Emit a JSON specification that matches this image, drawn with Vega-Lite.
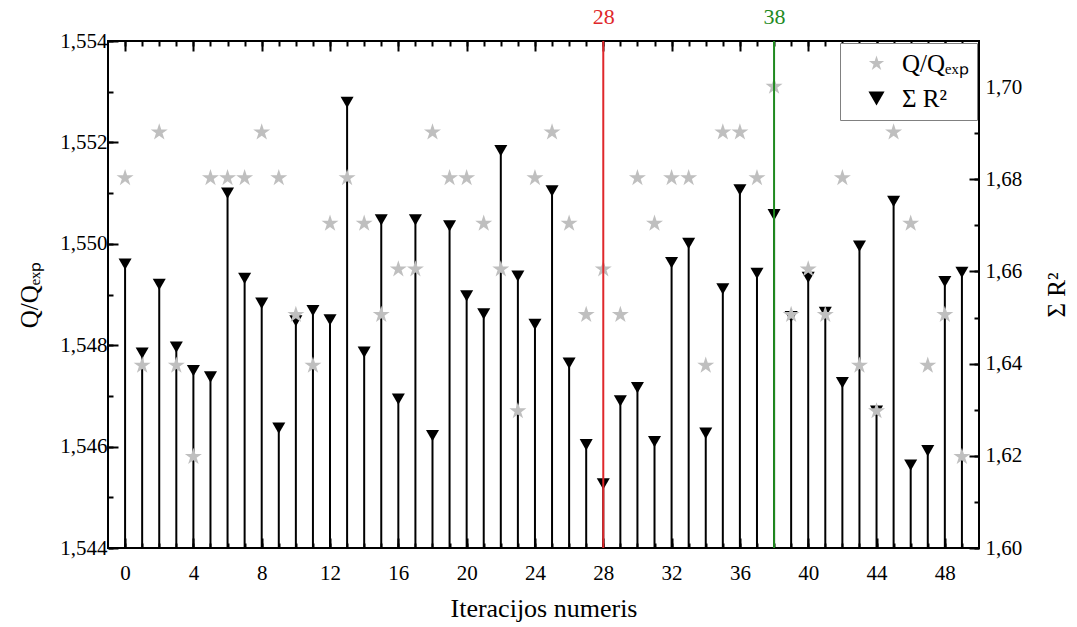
{
  "$schema": "https://vega.github.io/schema/vega-lite/v6.json",
  "width": 871,
  "height": 507,
  "autosize": "none",
  "padding": {"left": 108, "top": 41, "right": 98, "bottom": 79},
  "background": "white",
  "config": {
    "view": {"stroke": "black", "strokeWidth": 2},
    "font": "Liberation Serif",
    "axis": {"grid": false, "domain": false, "tickColor": "black", "tickWidth": 2, "labelColor": "black", "labelFont": "Liberation Serif", "titleFont": "Liberation Serif", "titleColor": "black", "titleFontWeight": "normal", "labelOverlap": false, "labelFlush": false, "labelBound": false}
  },
  "data": {"values": [
    {"i": 0, "q": 1.5513, "r": 1.6616},
    {"i": 1, "q": 1.5476, "r": 1.6423},
    {"i": 2, "q": 1.5522, "r": 1.6572},
    {"i": 3, "q": 1.5476, "r": 1.6436},
    {"i": 4, "q": 1.5458, "r": 1.6385},
    {"i": 5, "q": 1.5513, "r": 1.6371},
    {"i": 6, "q": 1.5513, "r": 1.6770},
    {"i": 7, "q": 1.5513, "r": 1.6585},
    {"i": 8, "q": 1.5522, "r": 1.6531},
    {"i": 9, "q": 1.5513, "r": 1.6260},
    {"i": 10, "q": 1.5486, "r": 1.6493},
    {"i": 11, "q": 1.5476, "r": 1.6515},
    {"i": 12, "q": 1.5504, "r": 1.6495},
    {"i": 13, "q": 1.5513, "r": 1.6967},
    {"i": 14, "q": 1.5504, "r": 1.6425},
    {"i": 15, "q": 1.5486, "r": 1.6712},
    {"i": 16, "q": 1.5495, "r": 1.6323},
    {"i": 17, "q": 1.5495, "r": 1.6712},
    {"i": 18, "q": 1.5522, "r": 1.6244},
    {"i": 19, "q": 1.5513, "r": 1.6699},
    {"i": 20, "q": 1.5513, "r": 1.6547},
    {"i": 21, "q": 1.5504, "r": 1.6508},
    {"i": 22, "q": 1.5495, "r": 1.6862},
    {"i": 23, "q": 1.5467, "r": 1.6590},
    {"i": 24, "q": 1.5513, "r": 1.6485},
    {"i": 25, "q": 1.5522, "r": 1.6775},
    {"i": 26, "q": 1.5504, "r": 1.6401},
    {"i": 27, "q": 1.5486, "r": 1.6224},
    {"i": 28, "q": 1.5495, "r": 1.6139},
    {"i": 29, "q": 1.5486, "r": 1.6319},
    {"i": 30, "q": 1.5513, "r": 1.6348},
    {"i": 31, "q": 1.5504, "r": 1.6231},
    {"i": 32, "q": 1.5513, "r": 1.6619},
    {"i": 33, "q": 1.5513, "r": 1.6661},
    {"i": 34, "q": 1.5476, "r": 1.6249},
    {"i": 35, "q": 1.5522, "r": 1.6562},
    {"i": 36, "q": 1.5522, "r": 1.6777},
    {"i": 37, "q": 1.5513, "r": 1.6596},
    {"i": 38, "q": 1.5531, "r": 1.6723},
    {"i": 39, "q": 1.5486, "r": 1.6502},
    {"i": 40, "q": 1.5495, "r": 1.6587},
    {"i": 41, "q": 1.5486, "r": 1.6511},
    {"i": 42, "q": 1.5513, "r": 1.6359},
    {"i": 43, "q": 1.5476, "r": 1.6655},
    {"i": 44, "q": 1.5467, "r": 1.6297},
    {"i": 45, "q": 1.5522, "r": 1.6752},
    {"i": 46, "q": 1.5504, "r": 1.6180},
    {"i": 47, "q": 1.5476, "r": 1.6211},
    {"i": 48, "q": 1.5486, "r": 1.6578},
    {"i": 49, "q": 1.5458, "r": 1.6598}
  ]},
  "layer": [
    {
      "mark": {"type": "rule", "color": "black", "strokeWidth": 2},
      "encoding": {
        "x": {"field": "i", "type": "quantitative", "scale": {"domain": [-1, 50], "nice": false, "zero": false},
          "axis": {"orient": "top", "values": [0,1,2,3,4,5,6,7,8,9,10,11,12,13,14,15,16,17,18,19,20,21,22,23,24,25,26,27,28,29,30,31,32,33,34,35,36,37,38,39,40,41,42,43,44,45,46,47,48,49],
            "labelExpr": "(datum.value == 28 || datum.value == 38) ? datum.label : ''",
            "labelColor": {"condition": {"test": "datum.value == 28", "value": "#e0272b"}, "value": "#1f8a1f"},
            "tickSize": -5, "labelFontSize": 22, "labelPadding": 18, "title": null}},
        "y": {"field": "r", "type": "quantitative", "scale": {"domain": [1.6, 1.71], "nice": false, "zero": false},
          "axis": {"orient": "right", "values": [1.6, 1.62, 1.64, 1.66, 1.68, 1.7],
            "labelExpr": "replace(format(datum.value, '.2f'), '.', ',')",
            "tickSize": -10, "labelFontSize": 21, "labelPadding": 16, "title": "Σ R²", "titleFontSize": 25, "titleAngle": 270, "titlePadding": 48}},
        "y2": {"datum": 1.6}
      }
    },
    {
      "mark": {"type": "point", "filled": true, "opacity": 1, "size": 170, "strokeWidth": 0},
      "encoding": {
        "x": {"field": "i", "type": "quantitative", "scale": {"domain": [-1, 50], "nice": false, "zero": false},
          "axis": {"orient": "top", "values": [0, 4, 8, 12, 16, 20, 24, 28, 32, 36, 40, 44, 48], "labels": false, "tickSize": -10, "title": null}},
        "y": {"field": "r", "type": "quantitative", "scale": {"domain": [1.6, 1.71], "nice": false, "zero": false},
          "axis": {"orient": "right", "values": [1.6,1.61,1.62,1.63,1.64,1.65,1.66,1.67,1.68,1.69,1.7], "labels": false, "tickSize": -5, "title": null}},
        "color": {"datum": "Σ R²", "type": "nominal", "scale": {"domain": ["Q/Qₑₓₚ", "Σ R²"], "range": ["#bfbfbf", "#000000"]},
          "legend": {"title": null, "orient": "top-right", "offset": 2, "padding": 8, "strokeColor": "#808080", "fillColor": "white", "labelFontSize": 25, "labelFont": "Liberation Serif", "labelColor": "black", "symbolSize": 260, "rowPadding": 9, "labelOffset": 13, "symbolOffset": 16, "symbolStrokeWidth": 0}},
        "shape": {"datum": "Σ R²", "type": "nominal", "scale": {"domain": ["Q/Qₑₓₚ", "Σ R²"], "range": ["M0,-1L0.2245,-0.309L0.951,-0.309L0.363,0.118L0.588,0.809L0,0.382L-0.588,0.809L-0.363,0.118L-0.951,-0.309L-0.2245,-0.309Z", "triangle-down"]}}
      }
    },
    {
      "mark": {"type": "point", "filled": true, "opacity": 1, "size": 320, "strokeWidth": 0},
      "encoding": {
        "x": {"field": "i", "type": "quantitative", "scale": {"domain": [-1, 50], "nice": false, "zero": false},
          "axis": {"orient": "bottom", "values": [0, 4, 8, 12, 16, 20, 24, 28, 32, 36, 40, 44, 48],
            "tickSize": -10, "labelFontSize": 21, "labelPadding": 24, "title": "Iteracijos numeris", "titleFontSize": 26, "titlePadding": 12}},
        "y": {"field": "q", "type": "quantitative", "scale": {"domain": [1.544, 1.554], "nice": false, "zero": false},
          "axis": {"orient": "left", "values": [1.544, 1.546, 1.548, 1.55, 1.552, 1.554],
            "labelExpr": "replace(format(datum.value, '.3f'), '.', ',')",
            "tickSize": -10, "labelFontSize": 21, "labelPadding": 11, "title": "Q/Qₑₓₚ", "titleFontSize": 25, "titlePadding": 17}},
        "color": {"datum": "Q/Qₑₓₚ", "type": "nominal"},
        "shape": {"datum": "Q/Qₑₓₚ", "type": "nominal"}
      }
    },
    {
      "data": {"values": [{"m": 28}, {"m": 38}]},
      "mark": {"type": "rule", "strokeWidth": 2},
      "encoding": {
        "x": {"field": "m", "type": "quantitative", "scale": {"domain": [-1, 50], "nice": false, "zero": false},
          "axis": {"orient": "bottom", "values": [0,1,2,3,4,5,6,7,8,9,10,11,12,13,14,15,16,17,18,19,20,21,22,23,24,25,26,27,28,29,30,31,32,33,34,35,36,37,38,39,40,41,42,43,44,45,46,47,48,49], "labels": false, "tickSize": -5, "title": null}},
        "y": {"datum": 1.544, "type": "quantitative", "scale": {"domain": [1.544, 1.554], "nice": false, "zero": false},
          "axis": {"orient": "left", "values": [1.544,1.545,1.546,1.547,1.548,1.549,1.55,1.551,1.552,1.553,1.554], "labels": false, "tickSize": -5, "title": null}},
        "y2": {"datum": 1.554},
        "stroke": {"field": "m", "type": "nominal", "scale": {"domain": [28, 38], "range": ["#e0272b", "#1f8a1f"]}, "legend": null}
      }
    }
  ],
  "resolve": {"scale": {"y": "independent"}, "axis": {"x": "independent", "y": "independent"}}
}
